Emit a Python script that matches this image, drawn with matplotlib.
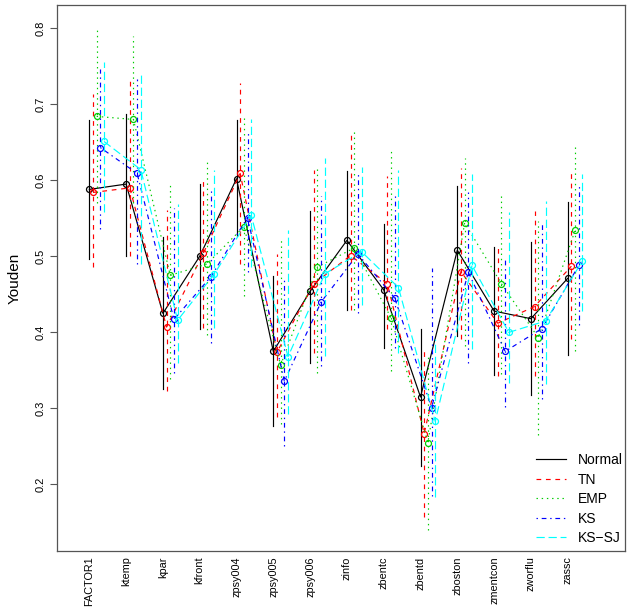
import matplotlib
matplotlib.use("Agg")
import matplotlib.pyplot as plt
from matplotlib.lines import Line2D
import numpy as np

categories = ["FACTOR1", "ktemp", "kpar", "kfront", "zpsy004", "zpsy005", "zpsy006",
              "zinfo", "zbentc", "zbentd", "zboston", "zmentcon", "zworflu", "zassc"]
series_names = ["Normal", "TN", "EMP", "KS", "KS\u2212SJ"]

normal_mean = [0.588, 0.595, 0.425, 0.500, 0.602, 0.375, 0.454, 0.521, 0.456, 0.315, 0.508, 0.428, 0.418, 0.471]
normal_lo   = [0.496, 0.501, 0.326, 0.404, 0.527, 0.277, 0.360, 0.430, 0.380, 0.224, 0.395, 0.344, 0.317, 0.370]
normal_hi   = [0.679, 0.687, 0.526, 0.595, 0.679, 0.474, 0.560, 0.612, 0.543, 0.405, 0.592, 0.512, 0.519, 0.572]

tn_mean = [0.584, 0.590, 0.407, 0.504, 0.609, 0.374, 0.464, 0.501, 0.464, 0.267, 0.480, 0.412, 0.434, 0.487]
tn_lo   = [0.486, 0.501, 0.323, 0.406, 0.490, 0.289, 0.373, 0.430, 0.404, 0.157, 0.391, 0.343, 0.343, 0.391]
tn_hi   = [0.714, 0.730, 0.561, 0.602, 0.728, 0.503, 0.614, 0.662, 0.605, 0.378, 0.616, 0.513, 0.560, 0.614]

emp_mean = [0.684, 0.680, 0.475, 0.490, 0.539, 0.357, 0.486, 0.511, 0.419, 0.255, 0.544, 0.464, 0.393, 0.534]
emp_lo   = [0.570, 0.570, 0.339, 0.397, 0.448, 0.280, 0.347, 0.430, 0.349, 0.140, 0.382, 0.345, 0.265, 0.375]
emp_hi   = [0.798, 0.790, 0.595, 0.625, 0.682, 0.525, 0.618, 0.666, 0.640, 0.370, 0.629, 0.582, 0.547, 0.644]

ks_mean = [0.643, 0.609, 0.417, 0.473, 0.551, 0.336, 0.440, 0.503, 0.445, 0.301, 0.479, 0.375, 0.405, 0.488]
ks_lo   = [0.536, 0.490, 0.347, 0.386, 0.480, 0.250, 0.356, 0.425, 0.380, 0.185, 0.360, 0.302, 0.313, 0.410]
ks_hi   = [0.746, 0.733, 0.564, 0.590, 0.664, 0.469, 0.579, 0.612, 0.582, 0.484, 0.584, 0.495, 0.547, 0.595]

kssj_mean = [0.651, 0.614, 0.416, 0.477, 0.554, 0.368, 0.477, 0.506, 0.459, 0.283, 0.488, 0.400, 0.415, 0.494]
kssj_lo   = [0.558, 0.490, 0.360, 0.406, 0.486, 0.293, 0.369, 0.436, 0.373, 0.183, 0.378, 0.334, 0.332, 0.428]
kssj_hi   = [0.755, 0.740, 0.569, 0.613, 0.681, 0.534, 0.629, 0.618, 0.614, 0.391, 0.608, 0.558, 0.573, 0.608]

means = [normal_mean, tn_mean, emp_mean, ks_mean, kssj_mean]
lows = [normal_lo, tn_lo, emp_lo, ks_lo, kssj_lo]
highs = [normal_hi, tn_hi, emp_hi, ks_hi, kssj_hi]

colors = ["#000000", "#FF0000", "#00CD00", "#0000FF", "#00FFFF"]
dashes = [None, (4, 4), (1.2, 3.2), (1.2, 3.2, 4, 3.2), (7, 3.2)]
LW = 0.85

plt.rcParams["font.family"] = ["Liberation Sans", "DejaVu Sans"]

W, H = 632, 608
fig = plt.figure(figsize=(W / 100, H / 100), dpi=100)
L, R, T, B = 57, 625, 5, 551
ax = fig.add_axes([L / W, 1 - B / H, (R - L) / W, (B - T) / H])

n = len(categories)
xs = np.arange(1, n + 1)
offset = 0.1

for j in range(5):
    x = xs + offset * j
    m = np.array(means[j])
    lo = np.array(lows[j])
    hi = np.array(highs[j])
    kw = dict(color=colors[j], linewidth=LW)
    for k in range(n):
        ln, = ax.plot([x[k], x[k]], [lo[k], hi[k]], **kw)
        if dashes[j] is not None:
            ln.set_dashes(dashes[j])
    ln, = ax.plot(x, m, **kw)
    if dashes[j] is not None:
        ln.set_dashes(dashes[j])
    ax.plot(x, m, linestyle="none", marker="o", markersize=4.3, markerfacecolor="none",
            markeredgecolor=colors[j], markeredgewidth=0.9)

# axis ranges (pixel-calibrated)
px_per_cat = 36.8
x1_px = 89.3
ax.set_xlim(1 - (x1_px - L) / px_per_cat, 1 + (R - x1_px) / px_per_cat)
ax.set_ylim(0.1125, 0.8305)

ax.set_xticks(xs)
ax.set_xticklabels(categories, rotation=90, fontsize=7.8)
ax.tick_params(axis="x", length=0, pad=4)
ax.set_yticks([0.2, 0.3, 0.4, 0.5, 0.6, 0.7, 0.8])
ax.set_yticklabels(["0.2", "0.3", "0.4", "0.5", "0.6", "0.7", "0.8"], rotation=90, va="center", fontsize=8)
ax.tick_params(axis="y", length=5, width=0.8, color="#555555", pad=3)
ax.set_ylabel("Youden", fontsize=11, labelpad=10)
for s in ax.spines.values():
    s.set_color("#555555")
    s.set_linewidth(0.9)

handles = []
for j in range(5):
    h = Line2D([0], [0], color=colors[j], linewidth=LW)
    if dashes[j] is not None:
        h.set_dashes(dashes[j])
    handles.append(h)
leg = ax.legend(handles, series_names, loc="lower right", fontsize=10, frameon=False,
                bbox_to_anchor=(623 / W, (H - 545) / H), bbox_transform=fig.transFigure,
                borderaxespad=0.0, borderpad=0.0, handlelength=2.2, handletextpad=0.85,
                labelspacing=0.39)

fig.savefig("out.png", dpi=100)
